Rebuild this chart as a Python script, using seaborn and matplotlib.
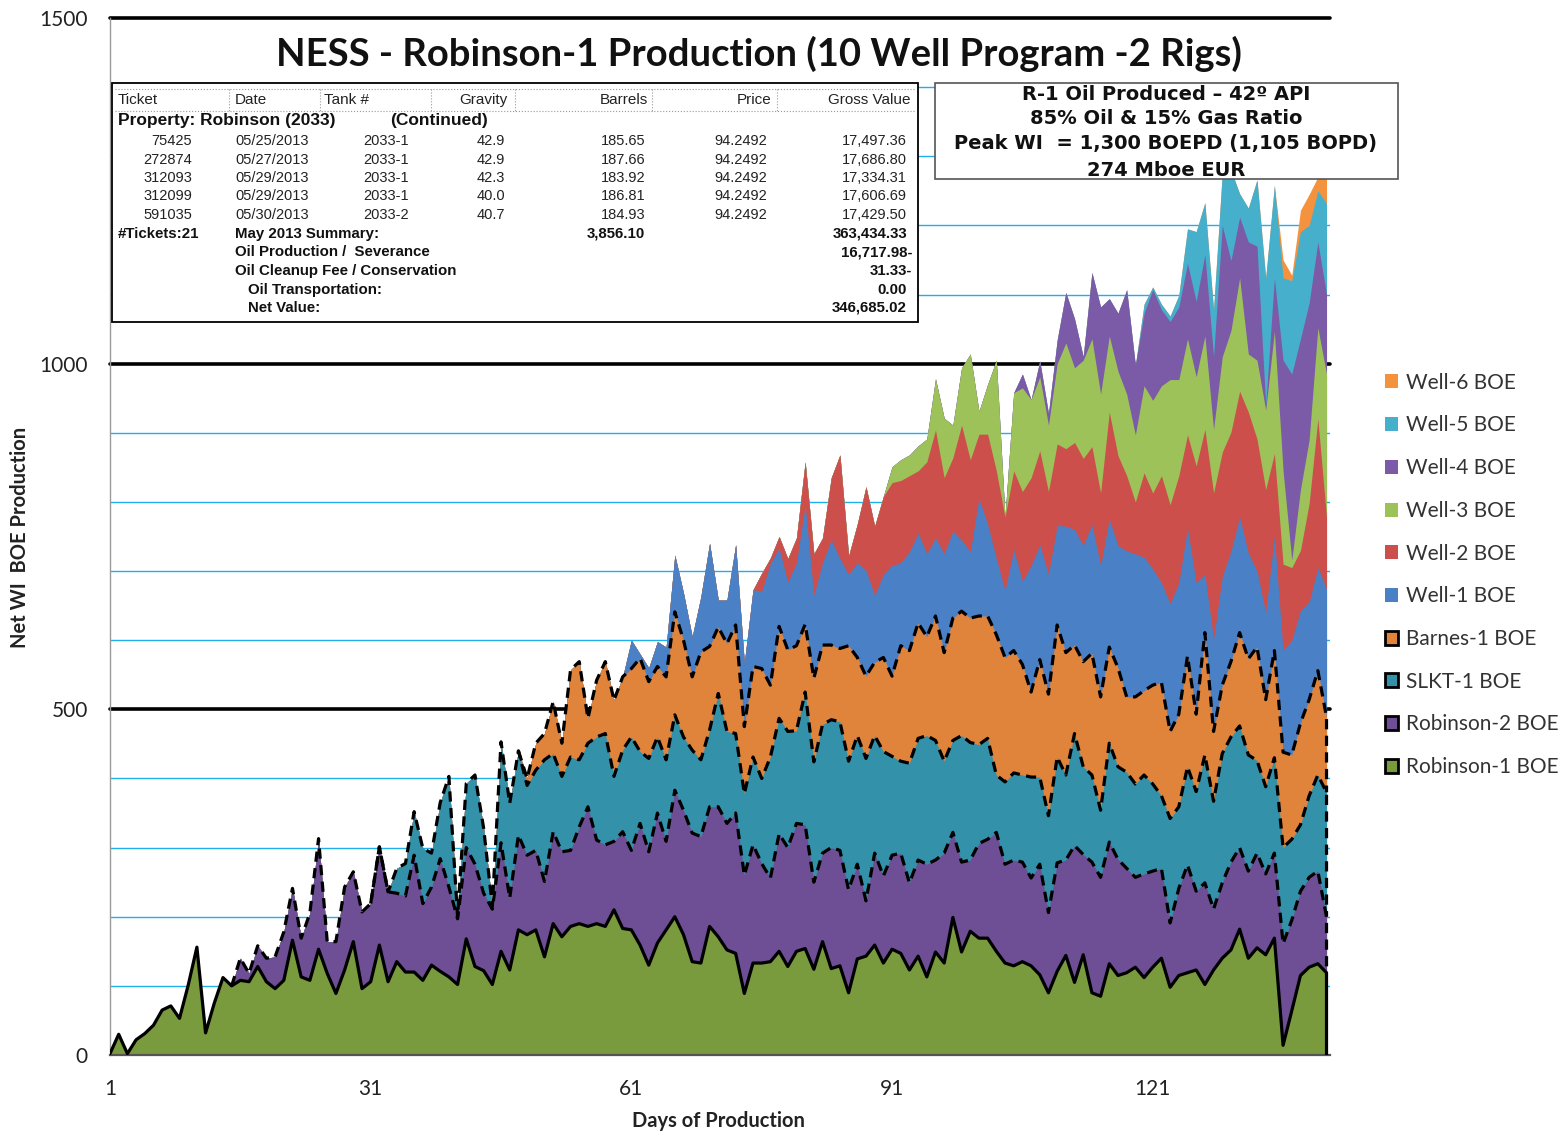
import numpy as np
import matplotlib
matplotlib.use("Agg")
import matplotlib.pyplot as plt
from matplotlib.patches import Patch, Rectangle
import seaborn as sns

# ---------------- data ----------------
days = list(range(1, 142))
series_names = ["Robinson-1 BOE", "Robinson-2 BOE", "SLKT-1 BOE", "Barnes-1 BOE",
                "Well-1 BOE", "Well-2 BOE", "Well-3 BOE", "Well-4 BOE", "Well-5 BOE", "Well-6 BOE"]
series_colors = ["#7a9a3e", "#6e4e94", "#3392aa", "#e0843c", "#4a80c6",
                 "#cd4f4b", "#9dc259", "#7b5aa8", "#46b0cc", "#f5923e"]
outlined = ["Robinson-1 BOE", "Robinson-2 BOE", "SLKT-1 BOE", "Barnes-1 BOE"]

# stacked totals (top edge of each layer, Net WI BOE);
# each list runs from the day the layer first shows up through day 141
robinson1_top = [2, 30, 2, 22, 31, 43, 65, 71, 53, 101,
                 156, 32, 75, 112, 100, 108, 106, 128, 106, 96,
                 108, 166, 113, 108, 153, 118, 89, 123, 164, 96,
                 106, 159, 106, 135, 120, 120, 108, 130, 121, 113,
                 102, 168, 128, 122, 102, 150, 123, 181, 174, 181,
                 142, 190, 171, 186, 190, 186, 190, 186, 210, 183,
                 181, 159, 130, 162, 181, 200, 174, 135, 133, 186,
                 171, 152, 147, 89, 133, 133, 135, 150, 128, 150,
                 154, 124, 164, 125, 129, 90, 139, 143, 159, 133,
                 153, 147, 123, 143, 113, 149, 133, 199, 149, 179,
                 169, 169, 150, 133, 129, 135, 129, 116, 90, 121,
                 144, 105, 145, 90, 85, 132, 115, 119, 127, 112,
                 127, 140, 98, 115, 119, 123, 102, 123, 140, 152,
                 182, 140, 155, 145, 169, 14, 64, 115, 127, 132,
                 119]
robinson2_top = [140, 118, 158, 140, 142,
                 178, 241, 169, 205, 313, 164, 164, 243, 265, 207,
                 219, 301, 236, 234, 230, 289, 219, 243, 284, 243,
                 197, 300, 276, 234, 211, 307, 227, 318, 289, 296,
                 251, 323, 294, 296, 330, 359, 311, 304, 309, 323,
                 296, 335, 294, 350, 309, 383, 354, 321, 316, 359,
                 359, 335, 350, 260, 304, 277, 256, 320, 300, 335,
                 333, 250, 292, 300, 296, 239, 276, 223, 292, 259,
                 289, 292, 249, 282, 276, 282, 292, 322, 279, 282,
                 306, 312, 322, 276, 282, 279, 256, 276, 206, 278,
                 282, 303, 290, 279, 257, 308, 283, 270, 257, 262,
                 266, 270, 191, 241, 275, 237, 249, 211, 249, 279,
                 300, 266, 292, 262, 292, 161, 195, 237, 257, 266,
                 200]
slkt1_top = [301, 236, 270, 277, 352, 299, 292, 365, 403,
             200, 393, 405, 328, 215, 453, 364, 440, 390, 412,
             427, 436, 403, 431, 427, 451, 460, 465, 403, 441,
             460, 439, 429, 460, 427, 492, 460, 441, 427, 470,
             523, 468, 465, 378, 431, 400, 431, 487, 468, 469,
             525, 424, 478, 485, 482, 425, 462, 429, 462, 439,
             432, 425, 422, 458, 462, 455, 425, 455, 462, 452,
             449, 458, 405, 395, 408, 405, 402, 402, 346, 431,
             405, 465, 417, 405, 354, 451, 417, 409, 392, 405,
             392, 375, 342, 359, 417, 381, 434, 367, 436, 460,
             476, 434, 426, 388, 430, 300, 312, 333, 375, 405,
             380]
barnes1_top = [400, 451,
               465, 511, 451, 557, 569, 487, 542, 569, 513, 547,
               559, 574, 540, 562, 547, 641, 600, 547, 583, 591,
               619, 595, 622, 475, 562, 559, 535, 620, 586, 592,
               623, 545, 593, 593, 588, 592, 575, 548, 568, 575,
               548, 592, 585, 625, 605, 635, 582, 632, 642, 632,
               635, 635, 608, 575, 585, 565, 525, 572, 522, 622,
               582, 593, 569, 581, 518, 590, 560, 518, 518, 527,
               535, 539, 468, 493, 577, 493, 611, 468, 535, 569,
               611, 573, 590, 514, 585, 438, 434, 480, 514, 556,
               489]
well1_top = [547,
             600, 580, 560, 598, 590, 723, 668, 605, 663, 740,
             658, 658, 738, 567, 673, 671, 711, 733, 684, 712,
             795, 665, 712, 745, 718, 695, 712, 701, 665, 695,
             708, 712, 728, 755, 725, 748, 725, 758, 745, 728,
             805, 768, 718, 672, 731, 685, 708, 738, 695, 766,
             765, 760, 737, 767, 708, 775, 737, 729, 725, 720,
             703, 683, 653, 683, 762, 683, 695, 602, 692, 729,
             778, 726, 700, 640, 750, 585, 600, 643, 655, 705,
             674]
well2_top = [697, 719, 750, 718, 748,
             858, 725, 748, 835, 868, 722, 768, 822, 765, 808,
             828, 831, 838, 845, 858, 904, 835, 864, 911, 861,
             898, 898, 845, 778, 845, 815, 835, 874, 815, 884,
             877, 886, 863, 880, 813, 930, 867, 838, 800, 842,
             813, 838, 796, 838, 897, 852, 905, 813, 872, 901,
             960, 930, 891, 818, 870, 710, 705, 730, 798, 920,
             778]
well3_top = [851, 861, 868, 881, 891, 978, 921, 911, 994, 1014,
             931, 970, 1005, 778, 958, 965, 948, 981, 911, 1000,
             1030, 994, 1005, 1036, 956, 1040, 989, 956, 897, 968,
             947, 968, 977, 977, 1036, 981, 1040, 905, 1010, 1048,
             1124, 1014, 1005, 933, 1047, 845, 716, 818, 890, 1052,
             985]
well4_top = [958, 985, 948, 1004, 928, 1034,
             1103, 1065, 1010, 1132, 1082, 1094, 1073, 1107, 998, 1073,
             1107, 1078, 1061, 1082, 1145, 1090, 1158, 1010, 1200, 1149,
             1212, 1176, 1170, 940, 1124, 1005, 985, 1036, 1088, 1176,
             1100]
well5_top = [1086,
             1111, 1086, 1069, 1099, 1195, 1191, 1233, 1078, 1275, 1280,
             1246, 1225, 1266, 1124, 1258, 1124, 1120, 1191, 1200, 1250,
             1232]
well6_top = [1258, 1150, 1128, 1222, 1245, 1270, 1275]

x_ticks = [1, 31, 61, 91, 121]
y_ticks = [0, 500, 1000, 1500]

title = "NESS - Robinson-1 Production (10 Well Program -2 Rigs)"
x_label = "Days of Production"
y_label = "Net WI  BOE Production"
note_lines = ["R-1 Oil Produced \u2013 42\u00ba API", "85% Oil & 15% Gas Ratio",
              "Peak WI  = 1,300 BOEPD (1,105 BOPD)", "274 Mboe EUR"]

# run-ticket table shown on the chart
tbl_header = ["Ticket", "Date", "Tank #", "Gravity", "Barrels", "Price", "Gross Value"]
tbl_ticket = ["75425", "272874", "312093", "312099", "591035"]
tbl_date = ["05/25/2013", "05/27/2013", "05/29/2013", "05/29/2013", "05/30/2013"]
tbl_tank = ["2033-1", "2033-1", "2033-1", "2033-1", "2033-2"]
tbl_gravity = ["42.9", "42.9", "42.3", "40.0", "40.7"]
tbl_barrels = ["185.65", "187.66", "183.92", "186.81", "184.93"]
tbl_price = ["94.2492", "94.2492", "94.2492", "94.2492", "94.2492"]
tbl_gross = ["17,497.36", "17,686.80", "17,334.31", "17,606.69", "17,429.50"]

# ---------------- build layers ----------------
n = len(days)
tops = []
prev = np.zeros(n)
for lst in [robinson1_top, robinson2_top, slkt1_top, barnes1_top, well1_top,
            well2_top, well3_top, well4_top, well5_top, well6_top]:
    arr = np.array(lst, dtype=float)
    start = n - len(arr)
    full = prev.copy()
    full[start:] = np.maximum(arr, prev[start:])
    tops.append(full)
    prev = full
tops = np.array(tops)
bottoms = np.vstack([np.zeros(n), tops[:-1]])
values = tops - bottoms
starts = [n - len(l) for l in [robinson1_top, robinson2_top, slkt1_top, barnes1_top]]

# ---------------- figure ----------------
sns.set_theme(style="white")
plt.rcParams["font.family"] = ["Lato", "DejaVu Sans"]

W, H = 1565, 1133
fig = plt.figure(figsize=(W / 100, H / 100), dpi=100)
fig.patch.set_facecolor("white")
ax = fig.add_axes([110 / W, 1 - 1055 / H, (1330 - 110) / W, (1055 - 18) / H])
ax.set_facecolor("white")

for v in range(100, 1500, 100):
    if v % 500:
        ax.axhline(v, color="#1fb0ec", lw=1.0, zorder=0)
for v in [500, 1000, 1500]:
    ax.axhline(v, color="black", lw=2.6, zorder=1, clip_on=False)

xs = np.array(days, dtype=float)
# paint from the top layer down so neighbouring layers share exact edges
for i in range(len(series_names) - 1, -1, -1):
    ax.fill_between(xs, 0, tops[i], facecolor=series_colors[i], lw=0, zorder=2)

for i, name in enumerate(outlined):
    s = max(starts[i] - 1, 0)
    lx = list(xs[s:]) + [xs[-1]]
    ly = list(tops[i][s:]) + [bottoms[i][-1]]
    style = "-" if i == 0 else (0, (3.2, 2.0))
    sns.lineplot(x=lx, y=ly, ax=ax, color="black", lw=2.3, linestyle=style,
                 sort=False, estimator=None, zorder=4)

ax.set_xlim(1, 141.4)
ax.set_ylim(0, 1500)
ax.set_xticks(x_ticks)
ax.set_yticks(y_ticks)
ax.set_xticklabels([str(t) for t in x_ticks], fontsize=15, color="#222222")
ax.set_yticklabels([str(t) for t in y_ticks], fontsize=15, color="#222222")
ax.tick_params(axis="x", length=5, width=1, color="#888888", pad=12, direction="out")
ax.tick_params(axis="y", length=0, pad=16)
for sp in ["top", "right"]:
    ax.spines[sp].set_visible(False)
ax.spines["left"].set_color("#9a9a9a")
ax.spines["left"].set_linewidth(1.0)
ax.spines["bottom"].set_color("#555555")
ax.spines["bottom"].set_linewidth(1.6)
ax.set_xlabel("")
ax.set_ylabel("")

# ---------------- overlay (pixel coordinates) ----------------
ov = fig.add_axes([0, 0, 1, 1], zorder=10)
ov.set_xlim(0, W)
ov.set_ylim(H, 0)
ov.axis("off")
ov.patch.set_alpha(0)

ov.text(759, 54, title, ha="center", va="center", fontsize=27.5, fontweight="bold",
        color="#111111")
ov.text(718, 1121, x_label, ha="center", va="center", fontsize=14.5,
        fontweight="bold", color="#222222")
ov.text(20, 537, y_label, ha="center", va="center", rotation=90, fontsize=14.5,
        fontweight="bold", color="#222222")

# table box
ov.add_patch(Rectangle((112, 83), 918 - 112, 322 - 83, facecolor="white",
                       edgecolor="black", lw=1.3))
ov.plot([115, 915], [89, 89], ls=":", color="#999999", lw=0.8)
ov.plot([115, 915], [111, 111], ls=":", color="#999999", lw=0.8)
for xsep in [229, 320, 431, 515, 652, 777]:
    ov.plot([xsep, xsep], [89, 111], ls=":", color="#999999", lw=0.8)

tf = ["Liberation Sans", "DejaVu Sans"]
hdr_pos = [(118, "left"), (235, "left"), (324, "left"), (508, "right"),
           (648, "right"), (771, "right"), (911, "right")]
for txt, (xp, ha) in zip(tbl_header, hdr_pos):
    ov.text(xp, 100, txt, ha=ha, va="center", fontsize=11, family=tf, color="#222222")
ov.text(118, 120, "Property: Robinson (2033)", ha="left", va="center", fontsize=12.5,
        fontweight="bold", family=tf, color="#111111")
ov.text(390, 120, "(Continued)", ha="left", va="center", fontsize=12.5,
        fontweight="bold", family=tf, color="#111111")
row_y = [141, 159.5, 178, 196.5, 215]
for k, yy in enumerate(row_y):
    ov.text(192, yy, tbl_ticket[k], ha="right", va="center", fontsize=10.5, family=tf, color="#222222")
    ov.text(235, yy, tbl_date[k], ha="left", va="center", fontsize=10.5, family=tf, color="#222222")
    ov.text(363, yy, tbl_tank[k], ha="left", va="center", fontsize=10.5, family=tf, color="#222222")
    ov.text(505, yy, tbl_gravity[k], ha="right", va="center", fontsize=10.5, family=tf, color="#222222")
    ov.text(645, yy, tbl_barrels[k], ha="right", va="center", fontsize=10.5, family=tf, color="#222222")
    ov.text(767, yy, tbl_price[k], ha="right", va="center", fontsize=10.5, family=tf, color="#222222")
    ov.text(907, yy, tbl_gross[k], ha="right", va="center", fontsize=10.5, family=tf, color="#222222")

summary = [
    (118, 234, "#Tickets:21", "left"), (235, 234, "May 2013 Summary:", "left"),
    (645, 234, "3,856.10", "right"), (907, 234, "363,434.33", "right"),
    (235, 252.5, "Oil Production /  Severance", "left"), (912, 252.5, "16,717.98-", "right"),
    (235, 271, "Oil Cleanup Fee / Conservation", "left"), (912, 271, "31.33-", "right"),
    (248, 290, "Oil Transportation:", "left"), (907, 290, "0.00", "right"),
    (248, 308, "Net Value:", "left"), (907, 308, "346,685.02", "right"),
]
for xp, yp, txt, ha in summary:
    ov.text(xp, yp, txt, ha=ha, va="center", fontsize=10.8, fontweight="bold",
            family=tf, color="#111111")

# note box
ov.add_patch(Rectangle((935, 83), 1398 - 935, 179 - 83, facecolor="white",
                       edgecolor="#555555", lw=1.2))
for txt, yy in zip(note_lines, [94, 119, 144, 170]):
    ov.text(1166, yy, txt, ha="center", va="center", fontsize=14, fontweight="bold",
            family=["DejaVu Sans"], color="#111111")

# legend
handles = []
labels = []
for i in range(len(series_names) - 1, -1, -1):
    name = series_names[i]
    if name in outlined:
        h = Patch(facecolor=series_colors[i], edgecolor="black", lw=2.0)
    else:
        h = Patch(facecolor=series_colors[i], edgecolor="none")
    handles.append(h)
    labels.append(name)
leg = fig.legend(handles, labels, loc="upper left", bbox_to_anchor=(1366 / W, 1 - 354 / H),
                 frameon=False, fontsize=15, handlelength=0.65, handleheight=0.65,
                 handletextpad=0.35, labelspacing=1.09)
for t in leg.get_texts():
    t.set_color("#333333")

fig.savefig("out.png", dpi=100, facecolor="white")
